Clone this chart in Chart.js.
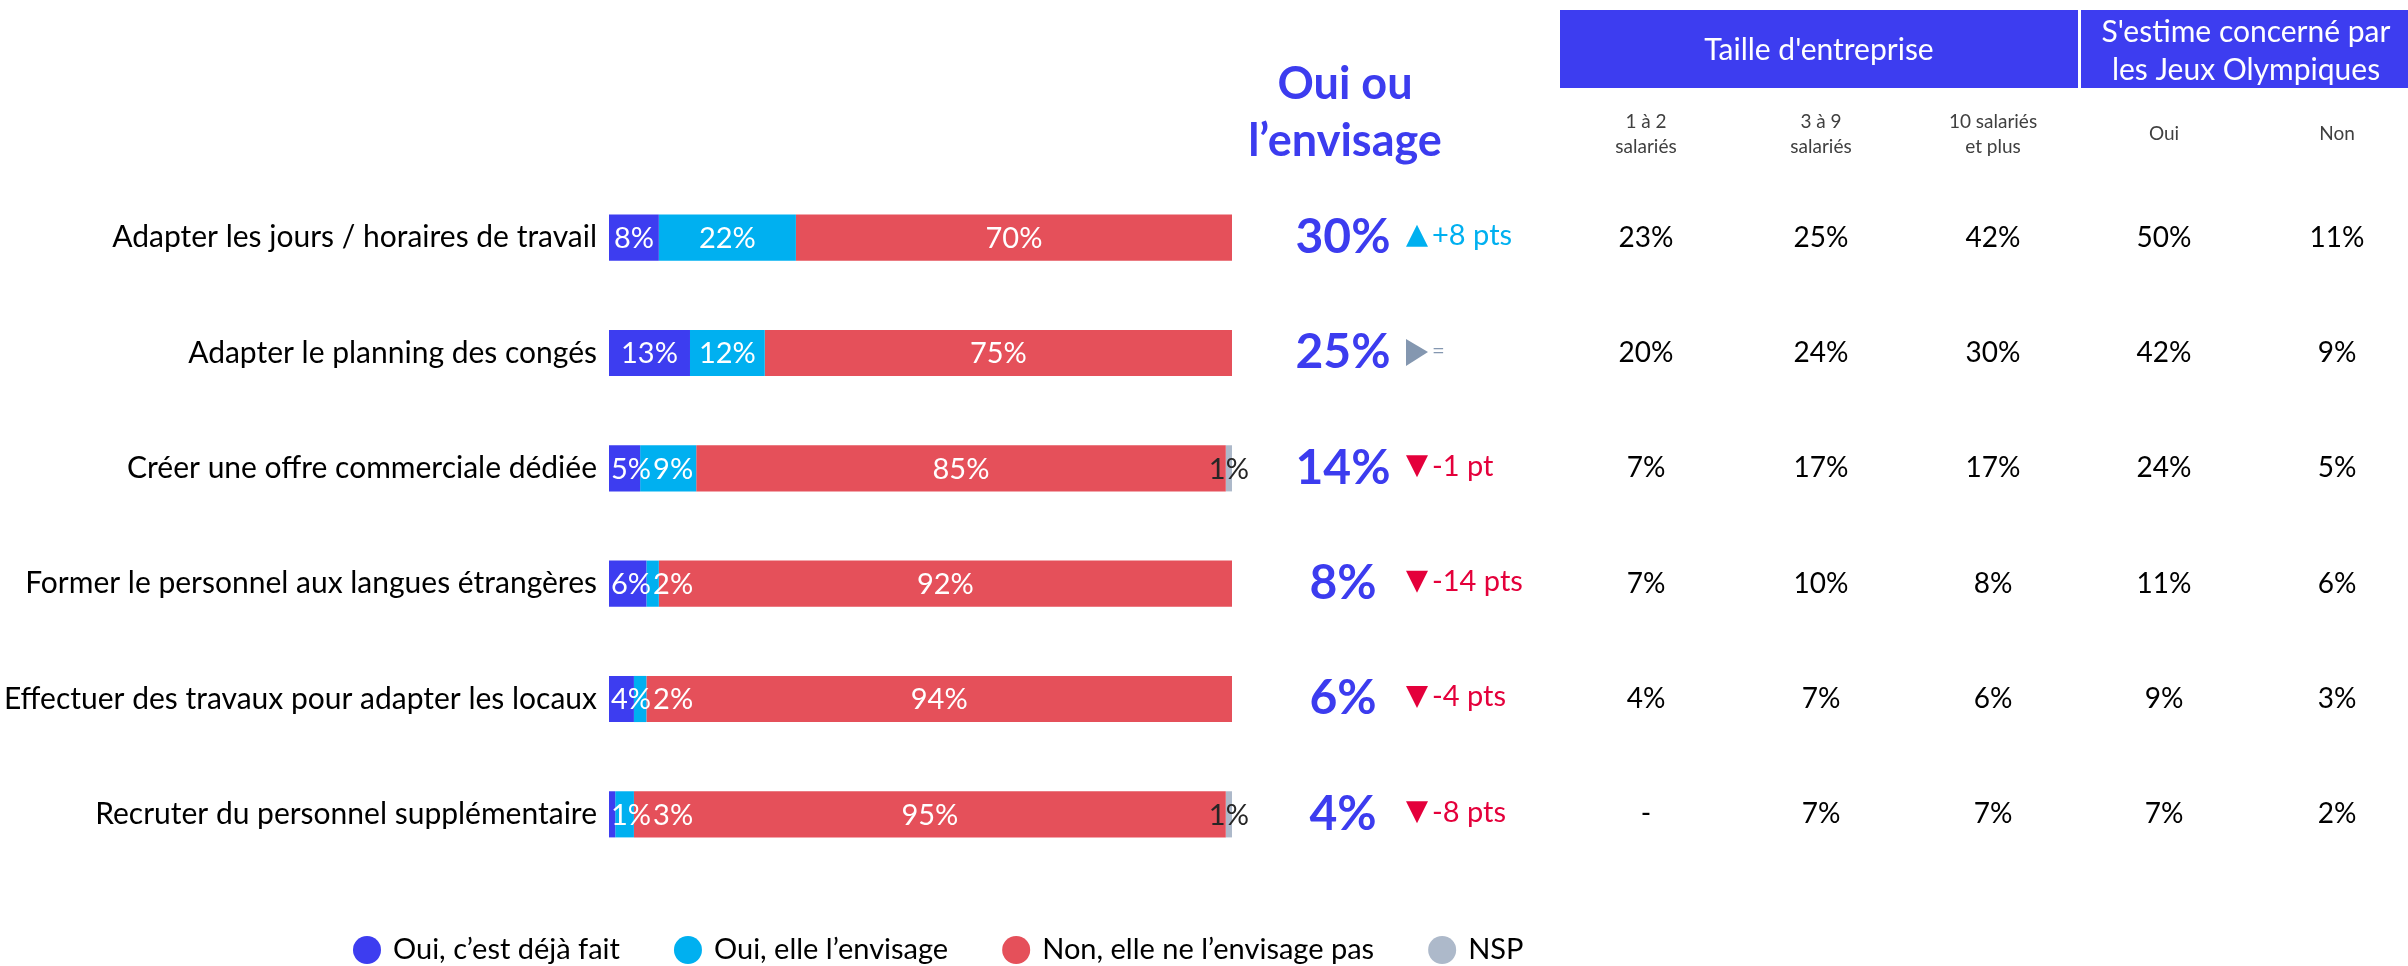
<!DOCTYPE html>
<html>
<head>
<meta charset="utf-8">
<script src="https://cdn.jsdelivr.net/npm/chart.js@4.4.0/dist/chart.umd.min.js"></script>
<style>
  html, body { margin: 0; padding: 0; background: #fff; }
</style>
</head>
<body>
<canvas id="graphique" width="2408" height="966"></canvas>
<script>

//#### donnees

var actions = [
  'Adapter les jours / horaires de travail',
  'Adapter le planning des congés',
  'Créer une offre commerciale dédiée',
  'Former le personnel aux langues étrangères',
  'Effectuer des travaux pour adapter les locaux',
  'Recruter du personnel supplémentaire'
];
var dejaFait = [8, 13, 5, 6, 4, 1];
var envisage = [22, 12, 9, 2, 2, 3];
var nonPas = [70, 75, 85, 92, 94, 95];
var nsp = [0, 0, 1, 0, 0, 1];

var ouiTotal = [30, 25, 14, 8, 6, 4];
var evolution = [8, 0, -1, -14, -4, -8];

var groupes = [['Taille d\'entreprise'], ['S\'estime concerné par', 'les Jeux Olympiques']];
var colonnes = [['1 à 2', 'salariés'], ['3 à 9', 'salariés'], ['10 salariés', 'et plus'], ['Oui'], ['Non']];
var unDeux = [23, 20, 7, 7, 4, null];
var troisNeuf = [25, 24, 17, 10, 7, 7];
var dixPlus = [42, 30, 17, 8, 6, 7];
var joOui = [50, 42, 24, 11, 9, 7];
var joNon = [11, 9, 5, 6, 3, 2];

var bleu = '#3D3DF0';
var cyan = '#00B0F0';
var rouge = '#E5505A';
var gris = '#ADB9CA';
var police = 'Lato, "Open Sans", sans-serif';


//#### petites fonctions de dessin

function texte(ctx, t, x, y, taille, couleur, gras, align) {
  ctx.font = (gras ? 'bold ' : '') + taille + 'px ' + police;
  ctx.fillStyle = couleur;
  ctx.textAlign = align || 'center';
  ctx.textBaseline = 'middle';
  ctx.fillText(t, x, y);
}

function texteEvolution(v) {
  if (v === 0) return '=';
  var s = v > 0 ? '+' + v : '' + v;
  return s + (Math.abs(v) === 1 ? ' pt' : ' pts');
}

function triangle(ctx, sens, x, y, couleur) {
  ctx.fillStyle = couleur;
  ctx.beginPath();
  if (sens > 0) {
    ctx.moveTo(x, y + 9); ctx.lineTo(x + 22, y + 9); ctx.lineTo(x + 11, y - 13);
  } else if (sens < 0) {
    ctx.moveTo(x, y - 13); ctx.lineTo(x + 22, y - 13); ctx.lineTo(x + 11, y + 9);
  } else {
    ctx.moveTo(x, y - 14); ctx.lineTo(x + 22, y - 1); ctx.lineTo(x, y + 13);
  }
  ctx.closePath();
  ctx.fill();
}


//#### etiquettes dans les barres (decalees si elles se chevauchent)

var etiquettesBarres = {
  id: 'etiquettesBarres',
  afterDatasetsDraw: function(chart) {
    var ctx = chart.ctx;
    ctx.save();
    for (var r = 0; r < actions.length; r++) {
      var finPrec = chart.chartArea.left;
      for (var d = 0; d < chart.data.datasets.length; d++) {
        var v = chart.data.datasets[d].data[r];
        if (!v) continue;
        var barre = chart.getDatasetMeta(d).data[r];
        var t = v + '%';
        ctx.font = '29px ' + police;
        var w = ctx.measureText(t).width;
        var cx = (barre.x + barre.base) / 2;
        if (d < 3 && cx - w / 2 < finPrec + 2) cx = finPrec + 2 + w / 2;
        texte(ctx, t, cx, barre.y + 1, 29, d === 3 ? '#262626' : '#fff', false);
        finPrec = cx + w / 2;
      }
    }
    ctx.restore();
  }
};


//#### colonnes de droite, tableau et legende

var partieDroite = {
  id: 'partieDroite',
  afterDraw: function(chart) {
    var ctx = chart.ctx;
    var y = chart.scales.y;
    ctx.save();

    // titre "Oui ou l'envisage"
    texte(ctx, 'Oui ou', 1345, 84, 45, '#3C3CEF', true);
    texte(ctx, 'l\u2019envisage', 1345, 141, 45, '#3C3CEF', true);

    // en-tetes du tableau
    ctx.fillStyle = bleu;
    ctx.fillRect(1560, 10, 518, 78);
    ctx.fillRect(2081, 10, 327, 78);
    texte(ctx, groupes[0][0], 1819, 50, 30, '#fff', false);
    texte(ctx, groupes[1][0], 2246, 32, 30, '#fff', false);
    texte(ctx, groupes[1][1], 2246, 70, 30, '#fff', false);

    var xCol = [1646, 1821, 1993, 2164, 2337];
    for (var c = 0; c < colonnes.length; c++) {
      if (colonnes[c].length === 2) {
        texte(ctx, colonnes[c][0], xCol[c], 122, 19, '#404040', false);
        texte(ctx, colonnes[c][1], xCol[c], 147, 19, '#404040', false);
      } else {
        texte(ctx, colonnes[c][0], xCol[c], 134, 19, '#404040', false);
      }
    }

    var series = [unDeux, troisNeuf, dixPlus, joOui, joNon];
    for (var i = 0; i < actions.length; i++) {
      var yy = y.getPixelForValue(i);

      texte(ctx, ouiTotal[i] + '%', 1343, yy, 48, '#3C3CEF', true);

      var ev = evolution[i];
      var coul = ev > 0 ? cyan : (ev < 0 ? '#E4003B' : '#8497B0');
      triangle(ctx, ev, 1406, yy, coul);
      texte(ctx, texteEvolution(ev), 1432, yy - 2, ev === 0 ? 22 : 29, coul, false, 'left');

      for (var k = 0; k < series.length; k++) {
        var v = series[k][i];
        texte(ctx, v === null ? '-' : v + '%', xCol[k], yy, 28, '#000', false);
      }
    }

    // legende
    var lx = 353;
    var ly = 950;
    chart.data.datasets.forEach(function(ds) {
      ctx.fillStyle = ds.backgroundColor;
      ctx.beginPath();
      ctx.ellipse(lx + 14, ly, 14, 14, 0, 0, Math.PI * 2);
      ctx.fill();
      texte(ctx, ds.label, lx + 40, ly, 29, '#000', false, 'left');
      ctx.font = '29px ' + police;
      lx += 40 + ctx.measureText(ds.label).width + 54;
    });

    ctx.restore();
  }
};


//#### graphique

function dessine() {
  new Chart(document.getElementById('graphique'), {
    type: 'bar',
    data: {
      labels: actions,
      datasets: [
        { label: 'Oui, c\u2019est déjà fait', data: dejaFait, backgroundColor: bleu },
        { label: 'Oui, elle l\u2019envisage', data: envisage, backgroundColor: cyan },
        { label: 'Non, elle ne l\u2019envisage pas', data: nonPas, backgroundColor: rouge },
        { label: 'NSP', data: nsp, backgroundColor: gris }
      ]
    },
    options: {
      indexAxis: 'y',
      responsive: false,
      devicePixelRatio: 1,
      animation: false,
      barPercentage: 0.4,
      categoryPercentage: 1,
      layout: { padding: { left: 0, right: 1176, top: 180, bottom: 94 } },
      plugins: {
        legend: { display: false },
        tooltip: { enabled: false }
      },
      scales: {
        x: { stacked: true, min: 0, max: 100, display: false },
        y: {
          stacked: true,
          grid: { display: false, drawTicks: false },
          border: { display: false },
          ticks: { color: '#000', padding: 12, font: { family: police, size: 30 } },
          afterFit: function(scale) { scale.width = 609; }
        }
      }
    },
    plugins: [etiquettesBarres, partieDroite]
  });
}

Promise.all([
  document.fonts.load('30px Lato'),
  document.fonts.load('bold 48px Lato')
]).then(dessine, dessine);

</script>
</body>
</html>
